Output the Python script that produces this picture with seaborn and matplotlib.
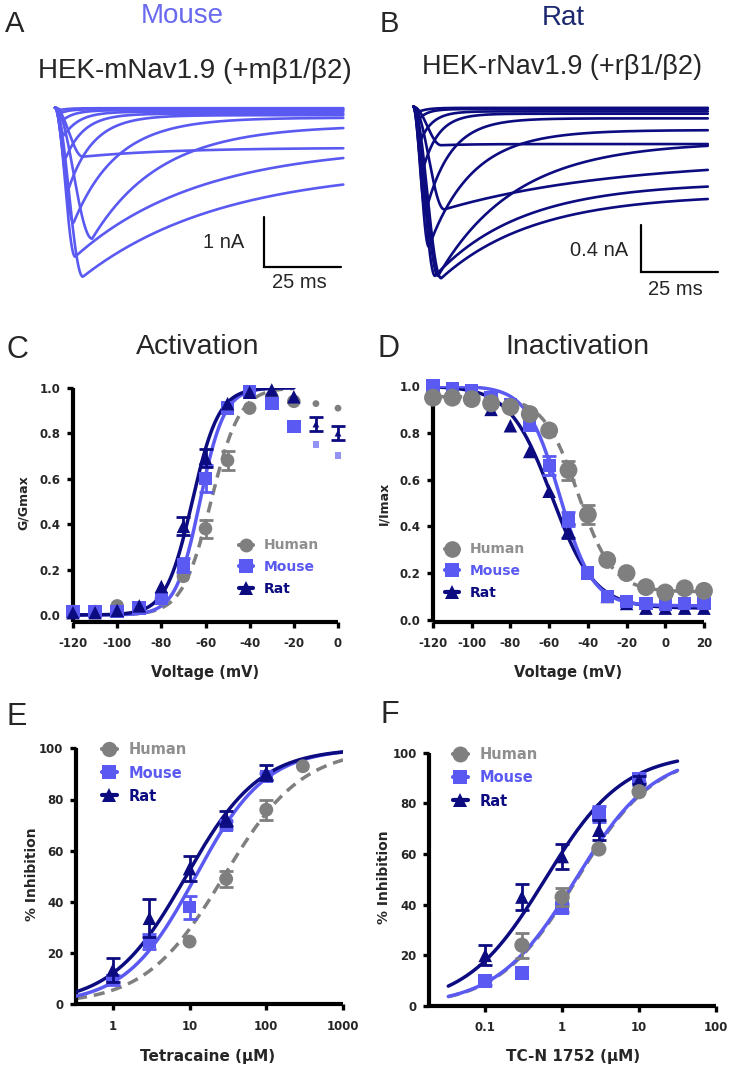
import numpy as np
import matplotlib
matplotlib.use("Agg")
import matplotlib.pyplot as plt
import seaborn as sns
from matplotlib.lines import Line2D

# ---------------- data ----------------
# Panels A/B: current sweeps
# peak inward current (nA), time to peak (ms), late current at end (nA), decay tau (ms)
mouse_peak = [3.38, 2.98, 2.62, 2.30, 0.98, 1.60, 1.00, 0.55, 0.25, 0.10, 0.04]
mouse_tpeak = [9.0, 6.5, 12.0, 6.0, 9.0, 4.5, 3.5, 3.0, 2.5, 2.0, 2.0]
mouse_late = [1.20, 0.75, 0.35, 0.20, 0.80, 0.15, 0.12, 0.08, 0.05, 0.03, 0.01]
mouse_tau = [45, 40, 22, 14, 30, 8, 6, 5, 4, 3, 3]

rat_peak = [1.47, 1.45, 1.45, 0.88, 1.20, 0.33, 0.90, 0.55, 0.28, 0.10, 0.04]
rat_tpeak = [9.0, 7.0, 8.0, 10.0, 5.0, 9.0, 4.0, 3.0, 2.5, 2.0, 2.0]
rat_late = [0.75, 0.65, 0.30, 0.45, 0.20, 0.32, 0.10, 0.06, 0.04, 0.02, 0.01]
rat_tau = [30, 28, 25, 55, 14, 10, 8, 5, 4, 3, 3]

# Panel C: activation (G/Gmax)
act_voltage = [-120, -110, -100, -90, -80, -70, -60, -50, -40, -30, -20, -10, 0]
act_human = [0.015, 0.015, 0.04, 0.03, 0.07, 0.17, 0.38, 0.68, 0.91, 0.96, 0.94, 0.93, 0.91]
act_human_err = [0, 0, 0, 0, 0, 0, 0.04, 0.04, 0, 0, 0, 0, 0]
act_mouse = [0.015, 0.015, 0.015, 0.03, 0.073, 0.22, 0.60, 0.91, 0.98, 0.93, 0.83, 0.75, 0.70]
act_mouse_err = [0, 0, 0, 0, 0, 0.03, 0.06, 0, 0, 0, 0, 0, 0]
act_rat = [0.01, 0.01, 0.02, 0.04, 0.125, 0.39, 0.69, 0.93, 0.98, 0.99, 0.96, 0.84, 0.80]
act_rat_err = [0, 0, 0, 0, 0, 0.04, 0.04, 0, 0, 0, 0, 0.03, 0.03]
act_fit_cutoff = -20          # points above this were excluded from the fit
act_fit = {"Human": (-57.5, 6.5), "Mouse": (-62.5, 5.5), "Rat": (-66.0, 6.0)}  # V1/2, k

# Panel D: steady-state inactivation (I/Imax)
inact_voltage = [-120, -110, -100, -90, -80, -70, -60, -50, -40, -30, -20, -10, 0, 10, 20]
inact_human = [0.95, 0.95, 0.944, 0.926, 0.91, 0.88, 0.81, 0.64, 0.45, 0.256, 0.20, 0.14, 0.117, 0.135, 0.124]
inact_human_err = [0, 0, 0, 0, 0, 0, 0, 0.04, 0.04, 0, 0, 0, 0, 0, 0]
inact_mouse = [1.0, 0.99, 0.98, 0.95, 0.92, 0.83, 0.66, 0.43, 0.20, 0.10, 0.08, 0.07, 0.065, 0.07, 0.07]
inact_mouse_err = [0, 0, 0, 0, 0, 0, 0.04, 0.03, 0, 0, 0, 0, 0, 0, 0]
inact_rat = [0.99, 0.97, 0.95, 0.90, 0.83, 0.72, 0.55, 0.38, 0.20, 0.10, 0.07, 0.05, 0.05, 0.05, 0.05]
inact_rat_err = [0, 0, 0, 0, 0, 0, 0, 0.03, 0, 0, 0, 0, 0, 0, 0]
inact_fit = {"Human": (0.955, 0.12, -45.0, 9.0),   # top, bottom, V1/2, k
             "Mouse": (1.0, 0.06, -54.5, 8.5),
             "Rat": (1.0, 0.05, -58.5, 11.0)}

# Panel E: tetracaine
tetra_human_conc = [10, 30, 100, 300]
tetra_human = [24.5, 49, 76, 93]
tetra_human_err = [0, 3, 4, 0]
tetra_conc = [1, 3, 10, 30, 100]
tetra_mouse = [9.5, 24.5, 38, 70, 89]
tetra_mouse_err = [2, 3, 4.5, 1.5, 1.5]
tetra_rat = [13.4, 33.6, 53, 72.6, 90.5]
tetra_rat_err = [4.5, 7.5, 5, 3, 3]
tetra_fit = {"Human": (28.0, 0.85), "Mouse": (12.0, 0.95), "Rat": (9.0, 0.9)}  # IC50, nH

# Panel F: TC-N 1752
tcn_human_conc = [0.3, 1, 3, 10]
tcn_human = [24, 43, 62, 84.6]
tcn_human_err = [5, 3.5, 0, 0]
tcn_conc = [0.1, 0.3, 1, 3, 10]
tcn_mouse = [9.9, 13, 38.7, 75.8, 89.9]
tcn_mouse_err = [1.5, 0, 1.5, 3, 1.5]
tcn_rat = [20, 43, 59, 69.4, 89.2]
tcn_rat_err = [4, 5, 5, 4, 1.5]
tcn_fit = {"Human": (1.55, 0.85), "Mouse": (1.5, 0.85), "Rat": (0.6, 0.85)}

# ---------------- style ----------------
sns.set_theme(style="ticks")
plt.rcParams['font.family'] = ['Liberation Sans', 'DejaVu Sans']

W, H = 733, 1072
fig = plt.figure(figsize=(W / 100, H / 100), dpi=100)
fig.patch.set_facecolor('white')

C_HUMAN = '#7f7f7f'
C_HUMAN_TXT = '#8f8f8f'
C_MOUSE = '#5a5af2'
C_RAT = '#0c0c80'
COLORS = {"Human": C_HUMAN, "Mouse": C_MOUSE, "Rat": C_RAT}
MARKERS = {"Human": "o", "Mouse": "s", "Rat": "^"}
BOLD = dict(family='DejaVu Sans', weight='bold')


def add_ax(l, t, r, b):
    return fig.add_axes([l / W, 1 - b / H, (r - l) / W, (b - t) / H])


def ftext(x, y, s, **kw):
    kw.setdefault('ha', 'center')
    kw.setdefault('va', 'center')
    fig.text(x / W, 1 - y / H, s, **kw)


# ---------------- A / B traces ----------------
def sweep(t, pk, tp, late, tau):
    rise = pk * np.sin(0.5 * np.pi * np.clip(t / tp, 0, 1)) ** 2
    decay = late + (pk - late) * np.exp(-(t - tp) / tau)
    return -np.where(t < tp, rise, decay)


def trace_panel(box, t0_px, base_px, px_ms, px_nA, dur, peaks, tps, lates, taus,
                color, bar_t, bar_top, bar_amp):
    l, t_, r, b = box
    ax = add_ax(*box)
    tt = np.linspace(0, dur, 800)
    for pk, tp, la, ta in zip(peaks, tps, lates, taus):
        sns.lineplot(x=tt, y=sweep(tt, pk, tp, la, ta), ax=ax, color=color, lw=1.9,
                     sort=False, estimator=None, errorbar=None)
    ax.plot([bar_t, bar_t, bar_t + 25], [bar_top, bar_top - bar_amp, bar_top - bar_amp],
            color='black', lw=1.6, solid_joinstyle='miter')
    ax.set_xlim((l - t0_px) / px_ms, (r - t0_px) / px_ms)
    ax.set_ylim(-(b - base_px) / px_nA, (base_px - t_) / px_nA)
    ax.axis('off')
    return ax


trace_panel((40, 95, 352, 292), 55, 107.7, 3.1, 50, 93,
            mouse_peak, mouse_tpeak, mouse_late, mouse_tau, C_MOUSE, 67.4, -2.18, 1.0)
trace_panel((400, 95, 722, 292), 413.3, 106.7, 3.1, 116.7, 95,
            rat_peak, rat_tpeak, rat_late, rat_tau, C_RAT, 73.4, -1.014, 0.4)

ftext(15, 24, "A", fontsize=21)
ftext(389, 24, "B", fontsize=21)
ftext(182, 16, "Mouse", fontsize=20, color='#6a6af0')
ftext(563, 18, "Rat", fontsize=20, color='#1c2870')
ftext(195, 71, "HEK-mNav1.9 (+mβ1/β2)", fontsize=20)
ftext(562, 67, "HEK-rNav1.9 (+rβ1/β2)", fontsize=19.5)
ftext(224, 242, "1 nA", fontsize=14.5)
ftext(299, 283, "25 ms", fontsize=14.5)
ftext(599, 250, "0.4 nA", fontsize=14.5)
ftext(675, 290, "25 ms", fontsize=14.5)


# ---------------- helpers for C-F ----------------
def plot_points(ax, x, y, err, name, s, z, alpha=1.0):
    x = np.asarray(x, float); y = np.asarray(y, float); err = np.asarray(err, float)
    m = err > 0
    if m.any():
        ax.errorbar(x[m], y[m], yerr=err[m], fmt='none', ecolor=COLORS[name], elinewidth=2.0,
                    capsize=5, capthick=2.0, zorder=z, clip_on=False, alpha=alpha)
    sns.scatterplot(x=x, y=y, ax=ax, color=COLORS[name], marker=MARKERS[name], s=s,
                    edgecolor='none', linewidth=0, zorder=z + 0.5, clip_on=False, alpha=alpha)


def plot_curve(ax, x, y, name, z):
    sns.lineplot(x=x, y=y, ax=ax, color=COLORS[name], lw=2.5, sort=False,
                 estimator=None, errorbar=None, zorder=z)
    if name == "Human":
        ax.lines[-1].set_dashes([3.2, 2.0])


def style_axes(ax, xticks, xlabels, yticks, ylabels):
    sns.despine(ax=ax)
    ax.set_xticks(xticks)
    ax.set_xticklabels(xlabels, fontsize=8.5, **BOLD)
    ax.set_yticks(yticks)
    ax.set_yticklabels(ylabels, fontsize=8.5, **BOLD)
    ax.minorticks_off()
    ax.tick_params(axis='both', which='major', width=2.4, length=4, color='black')
    ax.tick_params(axis='x', pad=7)
    ax.tick_params(axis='y', pad=5)
    for s in ('left', 'bottom'):
        ax.spines[s].set_linewidth(3.0)
        ax.spines[s].set_color('black')
        ax.spines[s].set_capstyle('butt')
    ax.set_facecolor('none')


def place_labels(ax, xl, xpos, yl, ypos, xsize, ysize):
    pos = ax.get_position()
    ax.set_xlabel(xl, fontsize=xsize, **BOLD)
    ax.set_ylabel(yl, fontsize=ysize, **BOLD)
    ax.xaxis.set_label_coords((xpos[0] / W - pos.x0) / pos.width,
                              ((1 - xpos[1] / H) - pos.y0) / pos.height)
    ax.yaxis.set_label_coords((ypos[0] / W - pos.x0) / pos.width,
                              ((1 - ypos[1] / H) - pos.y0) / pos.height)
    ax.xaxis.label.set_va('center')
    ax.yaxis.label.set_va('center')


def add_legend(ax, left_px, mid_px, msizes, fs):
    names = ["Human", "Mouse", "Rat"]
    handles = [Line2D([0], [0], color=COLORS[n], marker=MARKERS[n], markersize=msizes[i],
                      lw=3, markeredgewidth=0) for i, n in enumerate(names)]
    ax.legend(handles, names, loc='center left', bbox_to_anchor=(left_px / W, 1 - mid_px / H),
              bbox_transform=fig.transFigure, frameon=False, borderpad=0, borderaxespad=0,
              handlelength=1.0, handletextpad=0.8, labelspacing=0.55,
              labelcolor=[C_HUMAN_TXT, C_MOUSE, C_RAT], prop=dict(size=fs, **BOLD))


# ---------------- C: activation ----------------
axC = add_ax(73, 387.7, 338, 622)
vfit = np.linspace(-120, act_fit_cutoff, 300)
act_data = {"Human": (act_human, act_human_err), "Mouse": (act_mouse, act_mouse_err),
            "Rat": (act_rat, act_rat_err)}
va = np.asarray(act_voltage)
inc = va <= act_fit_cutoff
for i, name in enumerate(["Human", "Mouse", "Rat"]):
    vh, k = act_fit[name]
    plot_curve(axC, vfit, 1 / (1 + np.exp((vh - vfit) / k)), name, 2 + i)
    y, e = (np.asarray(a) for a in act_data[name])
    plot_points(axC, va[inc], y[inc], e[inc], name, 95, 3 + i)
    plot_points(axC, va[~inc], y[~inc], e[~inc], name, 24, 3 + i,
                alpha=0.65 if name == "Mouse" else 1.0)
axC.set_xlim(-120, 0)
axC.set_ylim(-0.031, 1.0)
style_axes(axC, [-120, -100, -80, -60, -40, -20, 0],
           ["-120", "-100", "-80", "-60", "-40", "-20", "0"],
           [0, 0.2, 0.4, 0.6, 0.8, 1.0], ["0.0", "0.2", "0.4", "0.6", "0.8", "1.0"])
place_labels(axC, "Voltage (mV)", (205, 672), "G/Gmax", (23, 503), 10.5, 9)
add_legend(axC, 239, 567, [10, 9.5, 10], 10)
ftext(198, 347, "Activation", fontsize=20.5)
ftext(17, 350, "C", fontsize=22)

# ---------------- D: inactivation ----------------
axD = add_ax(433, 386, 704, 621.7)
vfit = np.linspace(-120, 20, 300)
inact_data = {"Human": (inact_human, inact_human_err), "Mouse": (inact_mouse, inact_mouse_err),
              "Rat": (inact_rat, inact_rat_err)}
sizes_D = {"Human": 165, "Mouse": 90, "Rat": 95}
for i, name in enumerate(["Rat", "Mouse", "Human"]):
    top, bot, vh, k = inact_fit[name]
    plot_curve(axD, vfit, bot + (top - bot) / (1 + np.exp((vfit - vh) / k)), name, 2 + i)
for i, name in enumerate(["Rat", "Mouse", "Human"]):
    y, e = inact_data[name]
    plot_points(axD, inact_voltage, y, e, name, sizes_D[name], 6 + i)
axD.set_xlim(-120, 20)
axD.set_ylim(-0.008, 1.0)
style_axes(axD, [-120, -100, -80, -60, -40, -20, 0, 20],
           ["-120", "-100", "-80", "-60", "-40", "-20", "0", "20"],
           [0, 0.2, 0.4, 0.6, 0.8, 1.0], ["0.0", "0.2", "0.4", "0.6", "0.8", "1.0"])
place_labels(axD, "Voltage (mV)", (568, 672), "I/Imax", (384, 503), 10.5, 9)
add_legend(axD, 445, 571, [12, 9.5, 10], 10)
ftext(577, 347, "Inactivation", fontsize=20.5)
ftext(388, 349, "D", fontsize=22)

# ---------------- E: tetracaine ----------------
axE = add_ax(76, 748.3, 343, 1004.3)
axE.set_xscale('log')
cfit = np.logspace(-0.48, 3, 300)
for i, name in enumerate(["Human", "Mouse", "Rat"]):
    ic, n = tetra_fit[name]
    plot_curve(axE, cfit, 100 / (1 + (ic / cfit) ** n), name, 2 + i)
plot_points(axE, tetra_human_conc, tetra_human, tetra_human_err, "Human", 100, 5)
plot_points(axE, tetra_conc, tetra_mouse, tetra_mouse_err, "Mouse", 85, 6)
plot_points(axE, tetra_conc, tetra_rat, tetra_rat_err, "Rat", 95, 7)
axE.set_xlim(10 ** -0.48, 1000)
axE.set_ylim(0, 100)
style_axes(axE, [1, 10, 100, 1000], ["1", "10", "100", "1000"],
           [0, 20, 40, 60, 80, 100], ["0", "20", "40", "60", "80", "100"])
place_labels(axE, "Tetracaine (µM)", (208, 1057), "% Inhibition", (32, 874), 11, 10)
add_legend(axE, 102, 773, [11, 9.5, 10], 10.5)
ftext(17, 717, "E", fontsize=22)

# ---------------- F: TC-N 1752 ----------------
axF = add_ax(429.3, 752.7, 716, 1006)
axF.set_xscale('log')
cfit = np.logspace(-1.48, 1.5, 300)
for i, name in enumerate(["Human", "Mouse", "Rat"]):
    ic, n = tcn_fit[name]
    plot_curve(axF, cfit, 100 / (1 + (ic / cfit) ** n), name, 2 + i)
plot_points(axF, tcn_conc, tcn_mouse, tcn_mouse_err, "Mouse", 95, 5)
plot_points(axF, tcn_conc, tcn_rat, tcn_rat_err, "Rat", 95, 6)
plot_points(axF, tcn_human_conc, tcn_human, tcn_human_err, "Human", 120, 7)
axF.set_xlim(10 ** -1.727, 100)
axF.set_ylim(0, 100)
style_axes(axF, [0.1, 1, 10, 100], ["0.1", "1", "10", "100"],
           [0, 20, 40, 60, 80, 100], ["0", "20", "40", "60", "80", "100"])
place_labels(axF, "TC-N 1752 (µM)", (573, 1057), "% Inhibition", (384, 877), 11, 10)
add_legend(axF, 453, 778, [11.5, 9.5, 10], 10.5)
ftext(390, 715, "F", fontsize=22)

fig.savefig("out.png", dpi=100, facecolor='white')
